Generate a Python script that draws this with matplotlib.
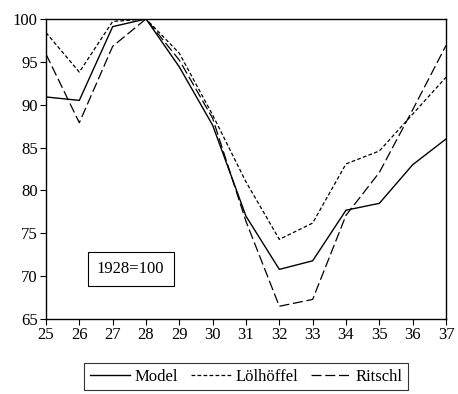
import matplotlib.pyplot as plt

years = [25, 26, 27, 28, 29, 30, 31, 32, 33, 34, 35, 36, 37]
model = [90.9, 90.5, 99.1, 100, 94.4, 87.6, 77.0, 70.8, 71.8, 77.7, 78.5, 83.0, 86.0]
lolhoffel = [98.4, 93.8, 99.7, 100, 96.0, 88.8, 81.0, 74.3, 76.2, 83.1, 84.6, 88.9, 93.2]
ritschl = [95.9, 87.9, 96.8, 100, 95.2, 88.4, 76.4, 66.5, 67.3, 77.1, 82.1, 89.4, 96.9]

plt.rcParams["font.family"] = ["Liberation Serif", "DejaVu Serif"]
plt.rcParams["font.size"] = 12

fig = plt.figure(figsize=(4.58, 3.94), dpi=100)
ax = fig.add_axes([0.1004, 0.19, 0.8734, 0.762])

ax.plot(years, model, color="black", lw=1.0, ls="-", label="Model")
ax.plot(years, lolhoffel, color="black", lw=0.9, ls=(0, (3, 1.8)), label="Lölhöffel")
ax.plot(years, ritschl, color="black", lw=0.9, ls=(0, (8, 3)), label="Ritschl")

ax.set_xlim(25, 37)
ax.set_ylim(65, 100)
ax.set_xticks(years)
ax.set_yticks([65, 70, 75, 80, 85, 90, 95, 100])
ax.tick_params(direction="out", length=4, width=0.8, top=False, right=False, pad=2)
for s in ax.spines.values():
    s.set_linewidth(1.0)

ax.text(27.54, 70.83, "1928=100", ha="center", va="center",
        bbox=dict(boxstyle="square,pad=0.55", fc="white", ec="black", lw=0.8))

leg = fig.legend(loc="center", bbox_to_anchor=(0.538, 0.0444), ncol=3, frameon=True,
                 fancybox=False, edgecolor="black", handlelength=2.4, handletextpad=0.25,
                 columnspacing=0.8, borderpad=0.35, fontsize=12)
leg.get_frame().set_linewidth(0.8)

fig.savefig("out.png", dpi=100)
